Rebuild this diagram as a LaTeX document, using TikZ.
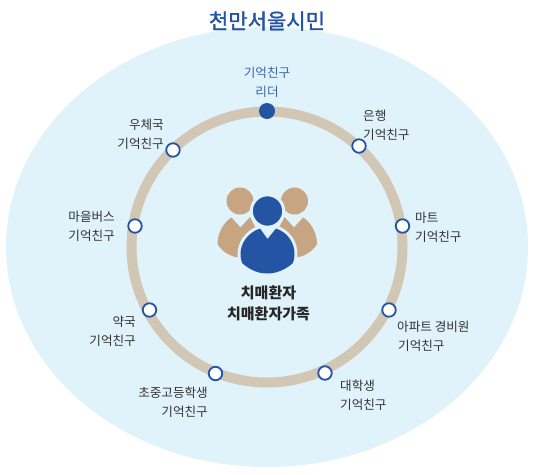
\documentclass[tikz,border=0pt]{standalone}
\usepackage{fontspec}
\setmainfont{Noto Sans CJK KR}
\newfontfamily\titlefont[FakeBold=1.6]{Noto Sans CJK KR}
\definecolor{skybg}{HTML}{E0F2FA}
\definecolor{ringtan}{HTML}{D2C7B4}
\definecolor{iconblue}{HTML}{2455A4}
\definecolor{icontan}{HTML}{C8A582}
\definecolor{labelgray}{HTML}{333333}
\newcommand\bluebody{(260,228.5) -- (267.5,239) -- (276,228.5) .. controls (289,233) and (294.5,244) .. (294.5,254) .. controls (294.5,257) and (294,260) .. (293,263) .. controls (285,270) and (276,273.5) .. (267.5,273.5) .. controls (258,273.5) and (250,270) .. (242,263) .. controls (241,260) and (240.5,257) .. (240.5,254) .. controls (240.5,244) and (247,233) .. (260,228.5) -- cycle}
\tikzset{
  friend/.style={circle,draw=iconblue,line width=1.8pt,fill=white,minimum size=13.5pt,inner sep=0pt},
  leader/.style={circle,fill=iconblue,minimum size=16pt,inner sep=0pt},
  lbl/.style={font=\fontsize{12.6}{19}\selectfont,text=labelgray,inner sep=0pt}
}
\begin{document}
\begin{tikzpicture}[x=1pt,y=-1pt]
\useasboundingbox (0,0) rectangle (534,474);
\fill[skybg] (267,247) ellipse [x radius=261,y radius=220];
\draw[ringtan,line width=10pt] (267,247) circle (135.5);
\node[font=\fontsize{21}{25}\selectfont\titlefont,text=iconblue,inner sep=0pt] (title) at (267,21) {천만서울시민};
% icon
\fill[icontan] (240,201) circle (13.5);
\fill[icontan] (294.5,201) circle (13.5);
\fill[icontan] (231.5,217.5) -- (240.5,227.5) -- (250,217) -- (262,240) -- (245,258) -- (238.5,257.5) .. controls (225,256) and (217,245) .. (217.5,243) .. controls (218,232) and (224,222) .. (231.5,217.5) -- cycle;
\fill[icontan] (303,217.5) -- (294,227.5) -- (284.5,217) -- (272.5,240) -- (289.5,258) -- (296,257.5) .. controls (309.5,256) and (317.5,245) .. (317,243) .. controls (316.5,232) and (310.5,222) .. (303,217.5) -- cycle;
\filldraw[iconblue,draw=skybg,line width=3pt] (267.5,211) circle (16.2);
\draw[skybg,line width=6pt,line join=round] \bluebody;
\fill[iconblue] \bluebody;
\node[font=\fontsize{15}{21}\selectfont\bfseries,text=black!85,align=center,inner sep=0pt] (family) at (268.5,303) {치매환자\\치매환자가족};
% friends on the ring
\node[leader] (n0) at (267,111) {};
\node[friend] (n1) at (359,146) {};
\node[friend] (n2) at (402.5,226) {};
\node[friend] (n3) at (389,310) {};
\node[friend] (n4) at (325,373) {};
\node[friend] (n5) at (215.5,373.5) {};
\node[friend] (n6) at (149.5,310) {};
\node[friend] (n7) at (135,226) {};
\node[friend] (n8) at (173,150) {};
\node[lbl,align=center,text=iconblue!90] (l0) at (267,82) {기억친구\\리더};
\node[lbl,align=left,anchor=west] (l1) at (363,125) {은행\\ 기억친구};
\node[lbl,align=left,anchor=west] (l2) at (415,227) {마트\\기억친구};
\node[lbl,align=left,anchor=west] (l3) at (397,336) {아파트 경비원\\ \hspace{1pt}기억친구};
\node[lbl,align=left,anchor=west] (l4) at (340,395) {대학생\\기억친구};
\node[lbl,align=right,anchor=east] (l5) at (208,402) {초중고등학생\\기억친구};
\node[lbl,align=right,anchor=east] (l6) at (136,331) {약국\\기억친구};
\node[lbl,align=right,anchor=east] (l7) at (115,226) {마을버스\\기억친구};
\node[lbl,align=right,anchor=east] (l8) at (164,134) {우체국\\기억친구};
\end{tikzpicture}
\end{document}
